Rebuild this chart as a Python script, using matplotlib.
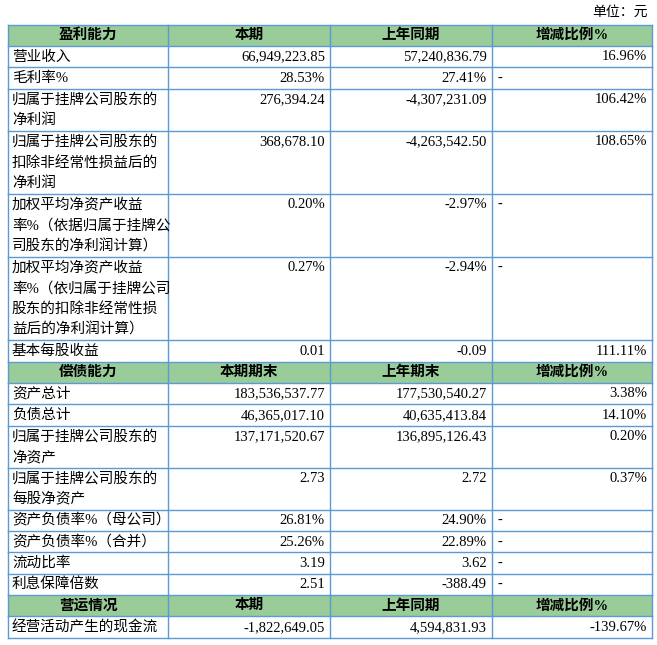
import matplotlib
matplotlib.use("Agg")
import matplotlib.pyplot as plt
from matplotlib.patches import Rectangle

plt.rcParams['font.family'] = ['Liberation Serif', 'Noto Sans CJK SC', 'DejaVu Sans']

sections = [
    (["盈利能力", "本期", "上年同期", "增减比例%"], [
        (["营业收入"], "66,949,223.85", "57,240,836.79", "16.96%"),
        (["毛利率%"], "28.53%", "27.41%", "-"),
        (["归属于挂牌公司股东的", "净利润"], "276,394.24", "-4,307,231.09", "106.42%"),
        (["归属于挂牌公司股东的", "扣除非经常性损益后的", "净利润"], "368,678.10", "-4,263,542.50", "108.65%"),
        (["加权平均净资产收益", "率%（依据归属于挂牌公", "司股东的净利润计算）"], "0.20%", "-2.97%", "-"),
        (["加权平均净资产收益", "率%（依归属于挂牌公司", "股东的扣除非经常性损", "益后的净利润计算）"], "0.27%", "-2.94%", "-"),
        (["基本每股收益"], "0.01", "-0.09", "111.11%"),
    ]),
    (["偿债能力", "本期期末", "上年期末", "增减比例%"], [
        (["资产总计"], "183,536,537.77", "177,530,540.27", "3.38%"),
        (["负债总计"], "46,365,017.10", "40,635,413.84", "14.10%"),
        (["归属于挂牌公司股东的", "净资产"], "137,171,520.67", "136,895,126.43", "0.20%"),
        (["归属于挂牌公司股东的", "每股净资产"], "2.73", "2.72", "0.37%"),
        (["资产负债率%（母公司）"], "26.81%", "24.90%", "-"),
        (["资产负债率%（合并）"], "25.26%", "22.89%", "-"),
        (["流动比率"], "3.19", "3.62", "-"),
        (["利息保障倍数"], "2.51", "-388.49", "-"),
    ]),
    (["营运情况", "本期", "上年同期", "增减比例%"], [
        (["经营活动产生的现金流"], "-1,822,649.05", "4,594,831.93", "-139.67%"),
    ]),
]

W, H = 657, 645
fig = plt.figure(figsize=(W/100, H/100), dpi=100)
ax = fig.add_axes([0, 0, 1, 1])
ax.set_xlim(0, W); ax.set_ylim(H, 0); ax.axis('off')

cols = [8, 168, 330, 492, 652]
line_h = 20.8
hdr_h = 21.5
border = '#5B9BD5'
green = '#99CC99'
fs = 10.5

ax.text(648, 12, "单位：元", ha='right', va='center', fontsize=10)

y = 24.5
for header, rows in sections:
    ax.add_patch(Rectangle((cols[0], y), cols[-1]-cols[0], hdr_h, facecolor=green, edgecolor='none'))
    for i, h in enumerate(header):
        ax.text((cols[i]+cols[i+1])/2, y+hdr_h/2, h, ha='center', va='center', fontsize=fs, fontweight='bold')
    ax.plot([cols[0], cols[-1]], [y, y], color=border, lw=1)
    for c in cols:
        ax.plot([c, c], [y, y+hdr_h], color=border, lw=1)
    y += hdr_h
    for label, v1, v2, v3 in rows:
        h = line_h*len(label) + 0.5
        ax.plot([cols[0], cols[-1]], [y, y], color=border, lw=1)
        for c in cols:
            ax.plot([c, c], [y, y+h], color=border, lw=1)
        for k, t in enumerate(label):
            ax.text(cols[0]+4, y+line_h/2+k*line_h+0.5, t, ha='left', va='center', fontsize=fs)
        for i, v in enumerate([v1, v2, v3]):
            if v == "-":
                ax.text(cols[i+3]+6 if False else cols[3]+6, y+line_h/2+0.5, v, ha='left', va='center', fontsize=fs)
            else:
                ax.text(cols[i+2]-5, y+line_h/2+0.5, v, ha='right', va='center', fontsize=fs)
        y += h
ax.plot([cols[0], cols[-1]], [y, y], color=border, lw=1)

fig.savefig("out.png", dpi=100)
